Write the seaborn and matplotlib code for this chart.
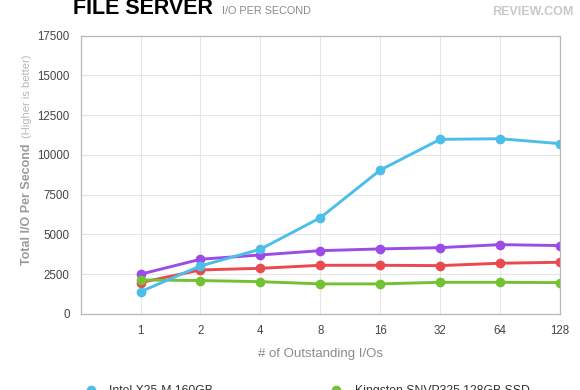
import pandas as pd
import matplotlib.pyplot as plt
from matplotlib.lines import Line2D
import seaborn as sns

# === Data ===
ios = ["1", "2", "4", "8", "16", "32", "64", "128"]
intel_x25m = [1400, 3020, 4070, 6050, 9050, 10980, 11020, 10710]
kingston_snvp325 = [2140, 2100, 2030, 1890, 1890, 1990, 1990, 1970]
kingston_snv425 = [1970, 2770, 2870, 3060, 3060, 3040, 3190, 3250]
ocz_vertex = [2500, 3440, 3710, 3980, 4090, 4170, 4360, 4300]

drives = ["Intel X25-M 160GB", "Kingston SNV425 64GB SSD",
          "Kingston SNVP325 128GB SSD", "OCZ Vertex 120GB"]
series = [intel_x25m, kingston_snv425, kingston_snvp325, ocz_vertex]
colors = ["#4dbdea", "#e9494f", "#74c234", "#9c4ce6"]
palette = dict(zip(drives, colors))

df = pd.concat([pd.DataFrame({"ios": ios, "iops": vals, "drive": name})
                for name, vals in zip(drives, series)], ignore_index=True)

# === Plot ===
sns.set_theme(style="whitegrid")
plt.rcParams['font.family'] = ['Liberation Sans', 'DejaVu Sans']

fig = plt.figure(figsize=(5.8, 3.9), dpi=100)
ax = fig.add_axes([0.139, 0.195, 0.8265, 0.7135])

draw_order = ["Kingston SNV425 64GB SSD", "OCZ Vertex 120GB",
              "Kingston SNVP325 128GB SSD", "Intel X25-M 160GB"]
sns.lineplot(data=df, x="ios", y="iops", hue="drive", hue_order=draw_order,
             palette=palette, marker="o", markersize=7, markeredgewidth=0,
             linewidth=2.1, legend=False, ax=ax)

ax.set_xlim(-1, len(ios) - 1)
ax.set_ylim(0, 17500)
ax.set_yticks(range(0, 17501, 2500))
ax.set_facecolor("white")
ax.grid(True, color="#e6e6e6", linewidth=0.8)
for s in ax.spines.values():
    s.set_visible(True)
    s.set_color("#b8b8b8")
    s.set_linewidth(0.9)
ax.tick_params(axis="both", length=0, labelsize=8.3, colors="#444444")
ax.tick_params(axis="x", pad=8)
ax.tick_params(axis="y", pad=8)

ax.set_xlabel("# of Outstanding I/Os", fontsize=9.5, color="#8c8c8c", labelpad=8)
ax.set_ylabel("")
fig.text(0.047, 0.477, "Total I/O Per Second", rotation=90, fontsize=9,
         fontweight="bold", color="#9a9a9a", ha="center", va="center")
fig.text(0.047, 0.752, "(Higher is better)", rotation=90, fontsize=8,
         color="#b8b8b8", ha="center", va="center")

# title + logo
fig.text(0.126, 0.964, "FILE SERVER", fontsize=15.5, fontweight="bold",
         color="black", va="baseline")
fig.text(0.383, 0.964, "I/O PER SECOND", fontsize=7.8, color="#8a8a8a",
         va="baseline")
fig.text(0.988, 0.962, "REVIEW.COM", fontsize=9, fontweight="bold",
         color="#c8c8c8", ha="right", va="baseline")

# legend (mostly cut off at the bottom)
legend_order = ["Intel X25-M 160GB", "Kingston SNV425 64GB SSD",
                "Kingston SNVP325 128GB SSD", "OCZ Vertex 120GB"]
handles = [Line2D([], [], marker="o", linestyle="none", markersize=7,
                  markeredgewidth=0, color=palette[d]) for d in legend_order]
fig.legend(handles, legend_order, ncol=2, loc="upper left",
           bbox_to_anchor=(0.125, 0.028), frameon=False, fontsize=8.8,
           labelcolor="#333333", handletextpad=0.5, columnspacing=4.5,
           borderpad=0)

fig.savefig("out.png", dpi=100)
